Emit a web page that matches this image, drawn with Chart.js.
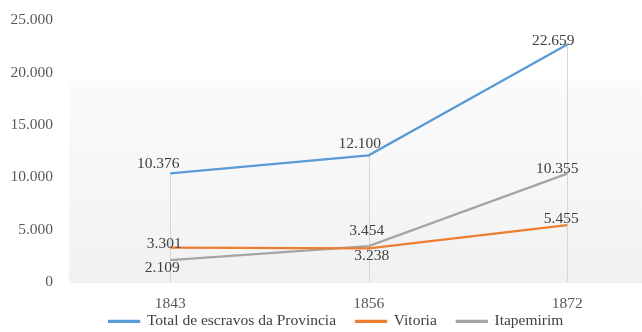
<!DOCTYPE html>
<html>
<head>
<meta charset="utf-8">
<script src="https://cdn.jsdelivr.net/npm/chart.js@4.4.0/dist/chart.umd.min.js"></script>
<style>
  html, body { margin: 0; padding: 0; background: #fff; overflow: hidden; }
  #wrap { width: 642px; height: 332px; overflow: hidden; }
</style>
</head>
<body>
<div id="wrap"><canvas id="escravosChart" width="690" height="332"></canvas></div>
<script>
// anos dos censos
const anos = ['1843', '1856', '1872'];

// numero de escravos
const totalProvincia = [10376, 12100, 22659];
const vitoria = [3301, 3238, 5455];
const itapemirim = [2109, 3454, 10355];

const yTicks = [0, 5000, 10000, 15000, 20000, 25000];

const fmt = v => v.toLocaleString('pt-BR');

// fundo cinza claro atras das linhas
const fundoPlot = {
  id: 'fundoPlot',
  beforeDatasetsDraw(chart) {
    const { ctx, chartArea: a } = chart;
    const y0 = a.top + 60;
    const g = ctx.createLinearGradient(0, y0, 0, a.bottom);
    g.addColorStop(0, 'rgba(246,246,246,0.5)');
    g.addColorStop(1, '#f1f1f1');
    ctx.save();
    ctx.fillStyle = g;
    ctx.fillRect(a.left - 2, y0, a.right - a.left + 2, a.bottom - y0 + 1);
    ctx.restore();
  }
};

// linhas verticais do ponto mais alto ate o eixo
const linhasQueda = {
  id: 'linhasQueda',
  beforeDatasetsDraw(chart) {
    const { ctx, scales: { x, y } } = chart;
    ctx.save();
    ctx.strokeStyle = '#d6d6d6';
    ctx.lineWidth = 1;
    anos.forEach((ano, i) => {
      const top = Math.max(...chart.data.datasets.map(d => d.data[i]));
      const px = Math.round(x.getPixelForValue(i)) + 0.5;
      ctx.beginPath();
      ctx.moveTo(px, y.getPixelForValue(top));
      ctx.lineTo(px, y.getPixelForValue(0));
      ctx.stroke();
    });
    ctx.restore();
  }
};

// rotulos de valor ao lado de cada ponto
const rotulos = {
  id: 'rotulos',
  afterDatasetsDraw(chart, args, opts) {
    const { ctx } = chart;
    ctx.save();
    ctx.font = '15.5px "Liberation Serif", serif';
    ctx.fillStyle = '#404040';
    ctx.textAlign = 'center';
    ctx.textBaseline = 'middle';
    chart.data.datasets.forEach((ds, di) => {
      const meta = chart.getDatasetMeta(di);
      meta.data.forEach((pt, i) => {
        const [dx, dy] = opts.offsets[di][i];
        ctx.fillText(fmt(ds.data[i]), pt.x + dx, pt.y + dy);
      });
    });
    ctx.restore();
  }
};

const serif = { family: '"Liberation Serif", serif', size: 15.5 };

new Chart(document.getElementById('escravosChart'), {
  type: 'line',
  data: {
    labels: anos,
    datasets: [
      { label: 'Total de escravos da Provincia', data: totalProvincia, borderColor: '#5b9bd5', backgroundColor: '#5b9bd5' },
      { label: 'Vitoria', data: vitoria, borderColor: '#ed7d31', backgroundColor: '#ed7d31' },
      { label: 'Itapemirim', data: itapemirim, borderColor: '#a5a5a5', backgroundColor: '#a5a5a5' }
    ]
  },
  options: {
    responsive: false,
    animation: false,
    layout: { padding: { left: 6, right: 23.5, top: 20, bottom: -7 } },
    elements: {
      line: { borderWidth: 2.25, tension: 0 },
      point: { radius: 0, hoverRadius: 0 }
    },
    scales: {
      x: {
        offset: true,
        afterFit: s => { s.height = 11.25; },
        grid: { display: false, drawTicks: false },
        border: { display: false },
        // mirror evita o recorte dos rotulos na caixa reduzida do eixo
        ticks: { color: '#595959', font: serif, mirror: true, padding: -31 }
      },
      y: {
        min: 0,
        max: 25000,
        afterBuildTicks: s => { s.ticks = yTicks.map(v => ({ value: v })); },
        afterFit: s => { s.width = 65; s.paddingTop = 9; s.paddingBottom = 9; },
        grid: { display: false, drawTicks: false },
        border: { display: false },
        ticks: { color: '#595959', font: serif, padding: 18, callback: v => fmt(v) }
      }
    },
    plugins: {
      legend: {
        position: 'bottom',
        labels: {
          color: '#404040',
          font: serif,
          boxWidth: 30,
          boxHeight: 1,
          padding: 20
        }
      },
      tooltip: { enabled: false },
      rotulos: {
        offsets: [
          [[-12, -9], [-9, -11], [-14, -4]],
          [[-6, -4], [3, 8], [-6, -6]],
          [[-8, 8], [-2, -15], [-10, -5]]
        ]
      }
    }
  },
  plugins: [fundoPlot, linhasQueda, rotulos]
});
</script>
</body>
</html>
